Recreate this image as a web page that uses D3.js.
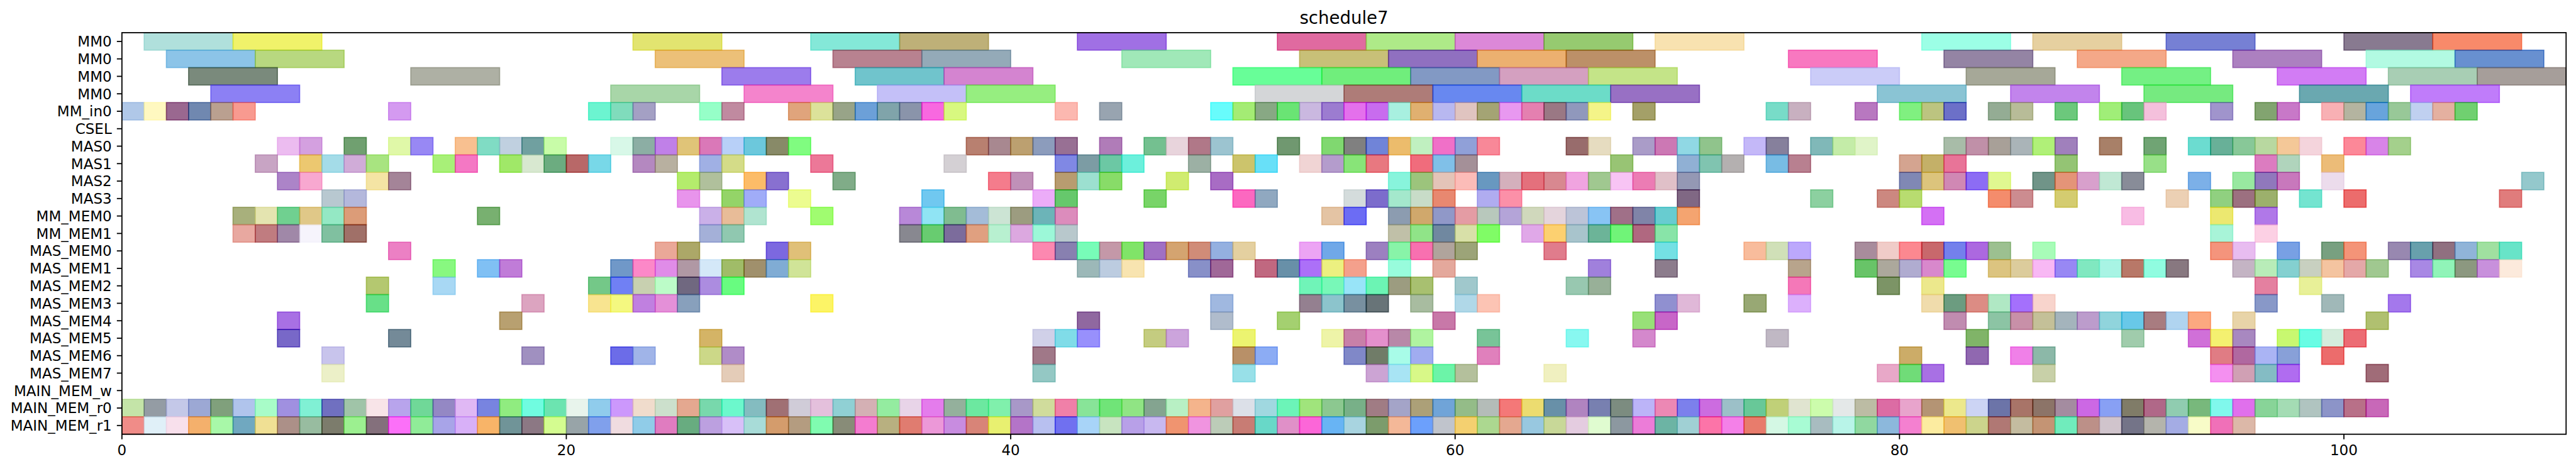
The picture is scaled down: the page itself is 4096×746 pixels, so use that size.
<!DOCTYPE html>
<html><head><meta charset="utf-8">
<script src="https://cdn.jsdelivr.net/npm/d3@7"></script>
<style>html,body{margin:0;padding:0;background:#fff;overflow:hidden}</style>
</head><body>
<svg id="chart" width="4096" height="746" viewBox="0 0 4942 900"></svg>
<script>
// ---------------- DATA ----------------
const chartTitle = "schedule7";
const rowLabels = ["MM0","MM0","MM0","MM0","MM_in0","CSEL","MAS0","MAS1","MAS2","MAS3","MM_MEM0","MM_MEM1",
  "MAS_MEM0","MAS_MEM1","MAS_MEM2","MAS_MEM3","MAS_MEM4","MAS_MEM5","MAS_MEM6","MAS_MEM7","MAIN_MEM_w","MAIN_MEM_r0","MAIN_MEM_r1"];
const rowDurations = [4,4,4,4,1,1,1,1,1,1,1,1,1,1,1,1,1,1,1,1,1,1,1];
const xTicks = [0,20,40,60,80,100];
const xMax = 110;

const tasksMM0a = [[1,"#b0e0dc"],[5,"#f0f26a"],[23,"#e2e470"],[31,"#84e8d8"],[35,"#beb078"],[43,"#a070e4"],[52,"#e06aa0"],[56,"#aeea88"],[60,"#dc88d8"],[64,"#96ca70"],[69,"#f8e2b0"],[81,"#9cffe6"],[86,"#e6d0a0"],[92,"#7680d4"],[100,"#887a90"],[104,"#f88a6a"]];
const tasksMM0b = [[2,"#8cc4e8"],[6,"#b8d880"],[24,"#ecc078"],[32,"#b88290"],[36,"#94aab8"],[45,"#a0e8b8"],[53,"#c8c078"],[57,"#9070c0"],[61,"#ecb070"],[65,"#bc9068"],[75,"#f878c0"],[82,"#9484a4"],[88,"#f4a888"],[95,"#ac80c0"],[101,"#b2fae2"],[105,"#6890d0"]];
const tasksMM0c = [[3,"#7a8a7c"],[13,"#aeb0a4"],[27,"#9c7cec"],[33,"#70c4cc"],[37,"#d484d0"],[50,"#68fe98"],[54,"#70ee7c"],[58,"#8299c4"],[62,"#d4a0c0"],[66,"#c4e488"],[76,"#cbccf8"],[83,"#a6a898"],[90,"#74f084"],[97,"#d27cf4"],[102,"#a8ceb4"],[106,"#a69e9a"]];
const tasksMM0d = [[4,"#8c80f4"],[22,"#a8d6a8"],[28,"#f484cc"],[34,"#c4c0f8"],[38,"#96ee80"],[51,"#d4d6d8"],[55,"#ae7c78"],[59,"#6888f0"],[63,"#6cdcc8"],[67,"#9870c4"],[79,"#8ac4d4"],[85,"#c284ec"],[91,"#76ea80"],[98,"#6aa8b0"],[103,"#c07cfa"]];
const tasksMMin0 = [[0,"#b0c8e8"],[1,"#fff8c0"],[2,"#9a6890"],[3,"#7088b0"],[4,"#baa090"],[5,"#f89a90"],[12,"#d49af0"],[21,"#6cf4d0"],[22,"#80dcbc"],[23,"#a4a0c4"],[26,"#96ffc8"],[27,"#c08aa0"],[30,"#e0a47c"],[31,"#dce29a"],[32,"#98a488"],[33,"#6ca0d8"],[34,"#80a4aa"],[35,"#8a94aa"],[36,"#f868e0"],[37,"#d8f880"],[42,"#fcb8b0"],[44,"#98a4b0"],[49,"#68fcfc"],[50,"#a4ec74"],[51,"#88a884"],[52,"#6ae474"],[53,"#cab8e0"],[54,"#9c7cd0"],[55,"#e470ec"],[56,"#c86cee"],[57,"#a8f0e0"],[58,"#e0b070"],[59,"#b8b8f0"],[60,"#e0c4c0"],[61,"#a4a474"],[62,"#e898f0"],[63,"#e480b0"],[64,"#9a7884"],[65,"#9098bc"],[66,"#f4f488"],[68,"#a4a068"],[74,"#78dcc8"],[75,"#c8b0c0"],[78,"#b878c0"],[80,"#80f080"],[81,"#bcc480"],[82,"#6c70c8"],[84,"#94ac94"],[85,"#b8bc98"],[87,"#6cc87c"],[89,"#a0ee78"],[90,"#68c47c"],[91,"#f4c0dc"],[94,"#a094cc"],[96,"#82a470"],[97,"#c878c8"],[99,"#f8b0b4"],[100,"#b4b4a0"],[101,"#68a4dc"],[102,"#98c898"],[103,"#c0d0f0"],[104,"#e4b0a0"],[105,"#70d070"]];
const tasksCSEL = [];
const tasksMAS0 = [[7,"#ecbcf0"],[8,"#d4a0e0"],[10,"#70a070"],[12,"#e0f8a8"],[13,"#9888f4"],[15,"#f8c090"],[16,"#80dcc4"],[17,"#c0d0e0"],[18,"#70a0a0"],[19,"#c8fca8"],[22,"#d8f8e8"],[23,"#8caea4"],[24,"#c080e8"],[25,"#e0c478"],[26,"#da78b8"],[27,"#b8d0f8"],[28,"#6cc8dc"],[29,"#888a68"],[30,"#80fc80"],[38,"#b88070"],[39,"#a88890"],[40,"#bca070"],[41,"#8c9cbc"],[42,"#987094"],[44,"#b07cb8"],[46,"#74c090"],[47,"#e8d4dc"],[48,"#b07888"],[49,"#9cc4d0"],[52,"#709870"],[54,"#80d870"],[55,"#808080"],[56,"#7084d8"],[57,"#ecbc6c"],[58,"#c0f0c0"],[59,"#f070c8"],[60,"#90a0d8"],[61,"#f88898"],[65,"#986c6c"],[66,"#e6dcc0"],[68,"#aa9cc8"],[69,"#cc78b4"],[70,"#90d8e4"],[71,"#90c48c"],[73,"#c4b8f8"],[74,"#86809c"],[76,"#80b8b8"],[77,"#c4eca8"],[78,"#e0f4c8"],[82,"#a8bca8"],[83,"#c090a8"],[84,"#a8a098"],[85,"#aab4b8"],[86,"#b0f078"],[87,"#a080bc"],[89,"#a88068"],[91,"#70a474"],[93,"#6cdcd0"],[94,"#68b098"],[95,"#88c898"],[96,"#b8d8a0"],[97,"#f4c898"],[98,"#f4d4dc"],[100,"#fc8898"],[101,"#d884e8"],[102,"#a4d08c"]];
const tasksMAS1 = [[6,"#c8a4c4"],[8,"#ecc870"],[9,"#a4dce8"],[10,"#d0acd8"],[11,"#a8e480"],[14,"#a8f078"],[15,"#f478c4"],[17,"#a0e868"],[18,"#d8e8d0"],[19,"#6cac80"],[20,"#b86868"],[21,"#78d8e8"],[23,"#b488c0"],[24,"#b8b0a0"],[26,"#a0b0e4"],[27,"#d4dc88"],[31,"#ec7898"],[37,"#d4d0d4"],[42,"#8088e4"],[43,"#7c9ca4"],[44,"#6cc8a4"],[45,"#6cf0dc"],[48,"#9cb0a4"],[50,"#ccc46c"],[51,"#68e0f8"],[53,"#f0d4d4"],[54,"#b49ccc"],[55,"#88e478"],[56,"#e87880"],[58,"#f06c7c"],[59,"#80c0e8"],[60,"#a49098"],[67,"#98c474"],[70,"#90b0d4"],[71,"#80c4b0"],[72,"#b4b0b0"],[74,"#78bce4"],[75,"#b88090"],[80,"#d4a490"],[81,"#c4b068"],[82,"#e87498"],[87,"#94c474"],[91,"#98e088"],[96,"#dc7cc0"],[97,"#b0d4bc"],[99,"#ecbc78"]];
const tasksMAS2 = [[7,"#ac84c8"],[8,"#f8a8d0"],[11,"#f4e4a4"],[12,"#a48498"],[25,"#b4ec6c"],[26,"#b0c09c"],[28,"#fcbc68"],[29,"#8870d0"],[32,"#80ac88"],[39,"#f47c8c"],[40,"#c090b8"],[42,"#b89c70"],[43,"#9ce0d0"],[44,"#88dc68"],[47,"#d0ec70"],[49,"#a86cc4"],[57,"#88f4dc"],[58,"#9cc47c"],[59,"#e4c4b8"],[60,"#fcbcb8"],[61,"#6898c0"],[62,"#d4b0bc"],[63,"#e4707c"],[64,"#d88890"],[65,"#f0a4e0"],[66,"#a0c890"],[67,"#f8c4f4"],[68,"#ec7cb4"],[69,"#e0c0c8"],[70,"#9498b4"],[80,"#8088b4"],[81,"#dcc47c"],[82,"#d088b4"],[83,"#8c6cf4"],[84,"#e0f890"],[86,"#709488"],[87,"#e49478"],[88,"#d8a0cc"],[89,"#c0e8d4"],[90,"#888c98"],[93,"#7cb0e8"],[95,"#98e8a0"],[96,"#9078bc"],[97,"#c878bc"],[99,"#ecdcec"],[108,"#94c8cc"]];
const tasksMAS3 = [[9,"#b8c8d0"],[10,"#b4b8dc"],[25,"#e894ec"],[27,"#94d468"],[28,"#a0acf8"],[30,"#ecfc90"],[36,"#70c8f0"],[41,"#ecacf8"],[42,"#64c86c"],[46,"#78d468"],[50,"#fc68c0"],[51,"#90a8c0"],[55,"#d4dcdc"],[56,"#7c6ccc"],[57,"#a4e8cc"],[58,"#c8dcc8"],[59,"#e88870"],[61,"#b0acf0"],[62,"#fc90a8"],[70,"#806884"],[76,"#8cd0a0"],[79,"#cc8880"],[80,"#b8dc70"],[84,"#f48c6c"],[85,"#cc8c90"],[87,"#d4cc70"],[92,"#ecd0b4"],[94,"#90d080"],[95,"#9c7080"],[96,"#9cb06c"],[98,"#74e4d0"],[100,"#ec6c6c"],[107,"#e07c7c"]];
const tasksMMMEM0 = [[5,"#a8b07c"],[6,"#e4e4b0"],[7,"#70d090"],[8,"#e0c888"],[9,"#94e8c4"],[10,"#dc9c78"],[16,"#78b070"],[26,"#cab0e8"],[27,"#e8bc98"],[28,"#b0e4d0"],[31,"#a0fc70"],[35,"#b888d8"],[36,"#90e4f4"],[37,"#80bc90"],[38,"#a4bcd8"],[39,"#cce4d4"],[40,"#9c9c80"],[41,"#6cb4b8"],[42,"#dc8cbc"],[54,"#e4c4a4"],[55,"#6c6cf4"],[57,"#8c9cb0"],[58,"#d0a86c"],[59,"#9098c8"],[60,"#e49ca4"],[61,"#b8c8bc"],[62,"#b4a4d8"],[63,"#d0d8bc"],[64,"#e4d4dc"],[65,"#bcc4d8"],[66,"#88c4f4"],[67,"#a07088"],[68,"#8084a8"],[69,"#68ccd0"],[70,"#f4a470"],[81,"#d470f4"],[90,"#f8bce4"],[94,"#ece870"],[96,"#b078e8"]];
const tasksMMMEM1 = [[5,"#e8a8a0"],[6,"#c07c80"],[7,"#a088a8"],[8,"#f6f4fc"],[9,"#80c0a0"],[10,"#a07068"],[26,"#a4b0d8"],[27,"#90c8b0"],[35,"#888890"],[36,"#68cc70"],[37,"#7c6c9c"],[38,"#e0a080"],[39,"#b8f0d0"],[40,"#dca8e0"],[41,"#9cf8d8"],[42,"#b8c8cc"],[57,"#c0c0a8"],[58,"#90e488"],[59,"#7088a0"],[60,"#d8e0a8"],[61,"#80fc60"],[63,"#e0a8e8"],[64,"#fcd070"],[65,"#a8c4cc"],[66,"#6cb498"],[67,"#70f478"],[68,"#b06880"],[69,"#88e4a8"],[94,"#a8f4d8"],[96,"#fcd0e4"]];
const tasksMASMEM0 = [[12,"#ec80c4"],[24,"#eaa898"],[25,"#aca868"],[29,"#7c68e0"],[30,"#e0c078"],[41,"#fc88b0"],[42,"#8880b0"],[43,"#78fcb8"],[44,"#c498a8"],[45,"#80e468"],[46,"#a070c4"],[47,"#d4a470"],[48,"#d08c78"],[49,"#94b0e0"],[50,"#e4d0a0"],[53,"#eca4f4"],[54,"#70a8e8"],[56,"#9c80c0"],[57,"#88f4a8"],[58,"#f870b0"],[59,"#b0a49c"],[60,"#9ca478"],[64,"#e07c8c"],[69,"#74e0e4"],[73,"#f8bc9c"],[74,"#d0e0b8"],[75,"#bca8fc"],[78,"#a88c9c"],[79,"#f0ccc8"],[80,"#fc8890"],[81,"#c8686c"],[82,"#7480ec"],[83,"#ac68e0"],[84,"#9cc090"],[86,"#a8fcb8"],[94,"#f4947c"],[95,"#e8bcf0"],[97,"#78a0e4"],[99,"#78a080"],[100,"#f49478"],[102,"#9888b0"],[103,"#68a0ac"],[104,"#907080"],[105,"#90b4d8"],[106,"#a0e0a0"],[107,"#68e4c8"]];
const tasksMASMEM1 = [[14,"#88f880"],[16,"#80c0f4"],[17,"#c07cd8"],[22,"#7098c8"],[23,"#fc88c8"],[24,"#e08ce8"],[25,"#b098a4"],[26,"#d4e8f8"],[27,"#a0bc68"],[28,"#a0906c"],[29,"#80acd4"],[30,"#d0e498"],[43,"#9cb8b8"],[44,"#bccce0"],[45,"#f8e4b0"],[48,"#8890c8"],[49,"#a06898"],[51,"#c06880"],[52,"#6890a8"],[53,"#ac70f8"],[54,"#ecf080"],[55,"#f4a08c"],[57,"#98fcdc"],[59,"#e4a89c"],[66,"#a080dc"],[69,"#8c7c8c"],[75,"#b8a48c"],[78,"#68c468"],[79,"#aca89c"],[80,"#b0acd0"],[81,"#d888cc"],[82,"#78fc90"],[84,"#dcc480"],[85,"#dccc9c"],[86,"#f8b8f4"],[87,"#9888f4"],[88,"#80e8c0"],[89,"#a8f4e4"],[90,"#b87868"],[91,"#90fce0"],[92,"#887880"],[95,"#c4b4c4"],[96,"#b8ecb8"],[97,"#84d0d0"],[98,"#c8d0c0"],[99,"#f4c4a0"],[100,"#e4a8a8"],[101,"#a0c890"],[103,"#a888e4"],[104,"#90f4b8"],[105,"#8c9880"],[106,"#c890dc"],[107,"#fceadc"]];
const tasksMASMEM2 = [[11,"#b4c870"],[14,"#a8d8f4"],[21,"#74c888"],[22,"#7080f4"],[23,"#c8d0b0"],[24,"#bcfcc8"],[25,"#706880"],[26,"#ac8ce0"],[27,"#68fc80"],[53,"#70f4b8"],[54,"#78f8b8"],[55,"#98e4f8"],[56,"#6cf4b4"],[57,"#9c9c80"],[58,"#a8c070"],[60,"#a0c8cc"],[65,"#98c8b0"],[66,"#98b098"],[75,"#f478b8"],[79,"#7c9460"],[81,"#ece88c"],[96,"#e480a0"],[98,"#e8f098"]];
const tasksMASMEM3 = [[11,"#68e088"],[18,"#dca4c0"],[21,"#f8e490"],[22,"#f4f880"],[23,"#c080e0"],[24,"#e490d8"],[25,"#88a0bc"],[31,"#fcf464"],[49,"#a0b8e0"],[53,"#948090"],[54,"#8cc4cc"],[55,"#7890a0"],[56,"#687478"],[58,"#a8bca0"],[60,"#b0d8e8"],[61,"#fcc4b4"],[69,"#9090d0"],[70,"#e0b8d8"],[73,"#98a874"],[75,"#dcb0fc"],[81,"#f0dcac"],[82,"#6c9c80"],[83,"#dc8c84"],[84,"#b0e8c4"],[85,"#a470fc"],[86,"#f8d4cc"],[96,"#8898c8"],[99,"#a0b8b8"],[102,"#a478ec"]];
const tasksMASMEM4 = [[7,"#a870e4"],[17,"#b8a070"],[43,"#9068a0"],[49,"#b0bccc"],[52,"#a4d070"],[59,"#c878a8"],[68,"#98e078"],[69,"#c864c8"],[82,"#c08cb0"],[84,"#8cc4a4"],[85,"#c890a8"],[86,"#c4c098"],[87,"#a4b4bc"],[88,"#bc9ccc"],[89,"#90d4dc"],[90,"#68c8e8"],[91,"#a87c80"],[92,"#b0d4f0"],[93,"#fca880"],[95,"#e8d4a8"],[101,"#b0c070"]];
const tasksMASMEM5 = [[7,"#7868c8"],[12,"#748a98"],[26,"#d4b464"],[41,"#d0d0e8"],[42,"#80dce8"],[43,"#9890fc"],[46,"#c4cc80"],[47,"#cca4dc"],[50,"#ecf470"],[54,"#eef4a8"],[55,"#c880a8"],[56,"#e490cc"],[57,"#b888a8"],[58,"#b0f4a0"],[61,"#78c498"],[65,"#88f8f0"],[68,"#d488cc"],[74,"#c0b8c4"],[83,"#80b468"],[90,"#a0ccac"],[93,"#d070d8"],[94,"#f4f070"],[95,"#a888c0"],[97,"#c8f870"],[98,"#68fce4"],[99,"#d4ecdc"],[100,"#ec6c74"]];
const tasksMASMEM6 = [[9,"#c8c4ec"],[18,"#a090c0"],[22,"#6c6ce8"],[23,"#a0b4e8"],[26,"#ccd888"],[27,"#b08cc8"],[41,"#a07888"],[50,"#b89068"],[51,"#8cacf4"],[55,"#8088c8"],[56,"#707c68"],[57,"#a8fce8"],[58,"#a0acf0"],[61,"#e080bc"],[80,"#ccac68"],[83,"#9068b0"],[85,"#f080e8"],[86,"#8cb8a8"],[94,"#e07c84"],[95,"#b068a0"],[96,"#aab4f4"],[97,"#88a0d8"],[99,"#ec6c6c"]];
const tasksMASMEM7 = [[9,"#ecf0c8"],[27,"#e4ccb8"],[41,"#94c8c4"],[50,"#98e0e8"],[56,"#cca4d4"],[57,"#a8e4f4"],[58,"#d8f888"],[59,"#6cf4a8"],[60,"#b4c09c"],[64,"#f0f0c0"],[79,"#e8a8c8"],[80,"#70dc78"],[81,"#a870e4"],[86,"#c8d0a8"],[94,"#f490f0"],[95,"#d0a0b4"],[96,"#84bcc4"],[97,"#b06cf0"],[101,"#a06c78"]];
const tasksMAINw = [];
const tasksMAINr0 = [[0,"#c4e4a8"],[1,"#949ca4"],[2,"#c4c8e8"],[3,"#9ca8d4"],[4,"#80a07c"],[5,"#b0c4ec"],[6,"#a8fcc8"],[7,"#a090e0"],[8,"#80f0d4"],[9,"#7070c0"],[10,"#a0c4a8"],[11,"#f8e4e8"],[12,"#b8a4ec"],[13,"#70d898"],[14,"#9488c4"],[15,"#e0b8f4"],[16,"#7884e0"],[17,"#90ec80"],[18,"#70fce0"],[19,"#6ce4b0"],[20,"#e8f4ec"],[21,"#90ccec"],[22,"#cc98fc"],[23,"#f0dccc"],[24,"#cce0cc"],[25,"#e4a890"],[26,"#78d8ac"],[27,"#6cf8cc"],[28,"#84bcc0"],[29,"#a07074"],[30,"#d0ccd8"],[31,"#e4c0dc"],[32,"#90d0d4"],[33,"#d4b0b4"],[34,"#94eca0"],[35,"#e8d4e8"],[36,"#e47cec"],[37,"#94b09c"],[38,"#6ce8a0"],[39,"#80f0ac"],[40,"#a898c8"],[41,"#d0dc9c"],[42,"#f080a8"],[43,"#88e498"],[44,"#70e478"],[45,"#90e484"],[46,"#84a490"],[47,"#b8f0c4"],[48,"#f4b48c"],[49,"#e0a0a0"],[50,"#dce0e8"],[51,"#a0d8e0"],[52,"#6cf4b8"],[53,"#a0e47c"],[54,"#8cc890"],[55,"#78b088"],[56,"#a07c84"],[57,"#a4a4c8"],[58,"#aca078"],[59,"#70a4d8"],[60,"#94bc88"],[61,"#b4bcb8"],[62,"#f47878"],[63,"#ecdc70"],[64,"#6890a8"],[65,"#b084c0"],[66,"#7880b0"],[67,"#7c8c80"],[68,"#bcb4f8"],[69,"#ec88b4"],[70,"#7c80ec"],[71,"#cc6ce0"],[72,"#9cc0c8"],[73,"#68c898"],[74,"#c0d078"],[75,"#e0e4d0"],[76,"#ccfcac"],[77,"#e4e8e8"],[78,"#bcbca4"],[79,"#dc6ca4"],[80,"#e8a4cc"],[81,"#b49474"],[82,"#ece88c"],[83,"#ccd4f4"],[84,"#6c74a8"],[85,"#a87468"],[86,"#8c7468"],[87,"#a48ca0"],[88,"#cc68e4"],[89,"#88a0f4"],[90,"#807c68"],[91,"#b06888"],[92,"#90ccb0"],[93,"#78b87c"],[94,"#80f8ec"],[95,"#e070ec"],[96,"#88d498"],[97,"#a4dcb4"],[98,"#b0c4c0"],[99,"#8c94c8"],[100,"#b87088"],[101,"#c868b8"]];
const tasksMAINr1 = [[0,"#f08c88"],[1,"#e0f0f8"],[2,"#f8e0ec"],[3,"#f4b06c"],[4,"#a8f8a8"],[5,"#70a8c0"],[6,"#f0e094"],[7,"#ac9088"],[8,"#98bca0"],[9,"#7c7c6c"],[10,"#9cf090"],[11,"#84707c"],[12,"#fc70f8"],[13,"#90ec98"],[14,"#a8a4e8"],[15,"#d8b0f8"],[16,"#f8b468"],[17,"#709498"],[18,"#8c7884"],[19,"#d4fc90"],[20,"#98a4a8"],[21,"#80a0ec"],[22,"#f0dce0"],[23,"#90cce8"],[24,"#e07cc0"],[25,"#68ac80"],[26,"#bca0e0"],[27,"#d8c0f8"],[28,"#a8dcd8"],[29,"#d49c6c"],[30,"#b49c80"],[31,"#80fcb0"],[32,"#888c78"],[33,"#f47cd0"],[34,"#b8b080"],[35,"#e07c70"],[36,"#ec98d8"],[37,"#c88ce0"],[38,"#d88478"],[39,"#e8f070"],[40,"#b474c8"],[41,"#b8c0f0"],[42,"#7070f0"],[43,"#a8d4f8"],[44,"#c8e4c0"],[45,"#b8a0e8"],[46,"#c8b8f0"],[47,"#f09470"],[48,"#f094e0"],[49,"#bcccb8"],[50,"#c87c74"],[51,"#68d8c8"],[52,"#e090c8"],[53,"#fc64d8"],[54,"#68b4f4"],[55,"#a8d4e0"],[56,"#7c9c6c"],[57,"#f4b898"],[58,"#6ca0fc"],[59,"#c0c4cc"],[60,"#f4d070"],[61,"#acd890"],[62,"#e4a890"],[63,"#98c8e0"],[64,"#c8d898"],[65,"#e4cce0"],[66,"#e0fcd0"],[67,"#8c98a0"],[68,"#ec7cd8"],[69,"#6cb4a4"],[70,"#a0d0d4"],[71,"#fc74a8"],[72,"#f480e8"],[73,"#e87c6c"],[74,"#d4f8e4"],[75,"#a8fcd4"],[76,"#a8bcc0"],[77,"#b8f4e8"],[78,"#90d8a0"],[79,"#8cb8dc"],[80,"#f480d0"],[81,"#fceca0"],[82,"#f0c070"],[83,"#ccd48c"],[84,"#b07874"],[85,"#c4bca0"],[86,"#c49474"],[87,"#70ecbc"],[88,"#bc9088"],[89,"#d0c4cc"],[90,"#747488"],[91,"#b4b4ac"],[92,"#a4ace4"],[93,"#f8fcc8"],[94,"#f070b8"],[95,"#dcb8a8"]];

const rowTasks = [tasksMM0a,tasksMM0b,tasksMM0c,tasksMM0d,tasksMMin0,tasksCSEL,tasksMAS0,tasksMAS1,tasksMAS2,tasksMAS3,
  tasksMMMEM0,tasksMMMEM1,tasksMASMEM0,tasksMASMEM1,tasksMASMEM2,tasksMASMEM3,tasksMASMEM4,tasksMASMEM5,tasksMASMEM6,tasksMASMEM7,
  tasksMAINw,tasksMAINr0,tasksMAINr1];

// ---------------- LAYOUT (reference pixel space, scaled by viewBox) ----------------
const M = {left: 233.9, right: 4923, top: 62.7, bottom: 833.3};
const ALPHA = 0.6;
const FONT = "'DejaVu Sans', sans-serif";
const svg = d3.select("#chart");

const x = d3.scaleLinear().domain([0, xMax]).range([M.left, M.right]);
const y = d3.scaleLinear().domain([0, rowLabels.length]).range([M.top, M.bottom]);

// observed (blended) colour -> underlying colour drawn with alpha
function baseColor(hex) {
  const c = d3.rgb(hex);
  const f = v => Math.max(0, Math.min(255, (v - 255 * (1 - ALPHA)) / ALPHA));
  return d3.rgb(f(c.r), f(c.g), f(c.b)).formatHex();
}

const flat = [];
rowTasks.forEach((tasks, i) => tasks.forEach(t => flat.push({row: i, start: t[0], dur: rowDurations[i], color: t[1]})));

svg.append("g").selectAll("rect").data(flat).join("rect")
  .attr("x", d => x(d.start))
  .attr("y", d => y(d.row))
  .attr("width", d => x(d.start + d.dur) - x(d.start))
  .attr("height", d => y(d.row + 1) - y(d.row))
  .attr("fill", d => baseColor(d.color))
  .attr("fill-opacity", ALPHA)
  .attr("stroke", d => baseColor(d.color))
  .attr("stroke-opacity", ALPHA)
  .attr("stroke-width", 2);

// white mask outside the plot (bars do not bleed over spines)
// spines
svg.append("rect")
  .attr("x", M.left).attr("y", M.top)
  .attr("width", M.right - M.left).attr("height", M.bottom - M.top)
  .attr("fill", "none").attr("stroke", "#000").attr("stroke-width", 2.2);

// y ticks + labels
const yt = svg.append("g");
rowLabels.forEach((lab, i) => {
  const cy = (y(i) + y(i + 1)) / 2;
  yt.append("line").attr("x1", M.left - 9.7).attr("x2", M.left).attr("y1", cy).attr("y2", cy)
    .attr("stroke", "#000").attr("stroke-width", 2.2);
  yt.append("text").attr("x", M.left - 19.4).attr("y", cy + 10.1)
    .attr("text-anchor", "end").attr("font-family", FONT).attr("font-size", 27.8).attr("fill", "#000")
    .text(lab);
});

// x ticks + labels
const xt = svg.append("g");
xTicks.forEach(v => {
  xt.append("line").attr("x1", x(v)).attr("x2", x(v)).attr("y1", M.bottom).attr("y2", M.bottom + 9.7)
    .attr("stroke", "#000").attr("stroke-width", 2.2);
  xt.append("text").attr("x", x(v)).attr("y", 873)
    .attr("text-anchor", "middle").attr("font-family", FONT).attr("font-size", 27.8).attr("fill", "#000")
    .text(v);
});

// title
svg.append("text").attr("x", (M.left + M.right) / 2).attr("y", 46)
  .attr("text-anchor", "middle").attr("font-family", FONT).attr("font-size", 33.3).attr("fill", "#000")
  .text(chartTitle);
</script>
</body></html>
